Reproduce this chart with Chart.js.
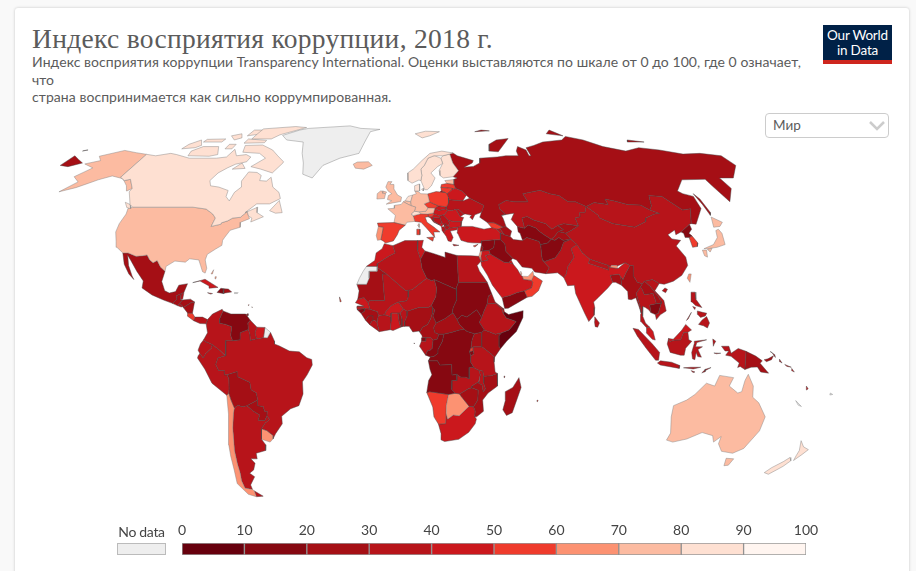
<!DOCTYPE html>
<html lang="ru">
<head>
<meta charset="UTF-8" />
<title>Индекс восприятия коррупции, 2018 г.</title>
<script src="https://cdn.jsdelivr.net/npm/chart.js@4"></script>
<style>
  html, body { margin: 0; height: 100%; overflow: hidden; background: #f9f9f9; }
  body { font-family: Lato, "Noto Sans", sans-serif; color: #5b5b5b; }
  #card { position: absolute; left: 15px; top: 8px; width: 894px; height: 580px; background: #fff; border-radius: 3px; box-shadow: 0 0 3px rgba(0,0,0,.22); }
  .line { position: absolute; white-space: nowrap; }
  #title { left: 32px; top: 22px; font: 27.5px/34px "Liberation Serif", serif; letter-spacing: .3px; }
  .sub { left: 32px; font-size: 14px; line-height: 18px; letter-spacing: .06px; }
  #logo { position: absolute; left: 823px; top: 25px; width: 69px; height: 39px; background: #002147; border-bottom: 0; color: #fff; text-align: center; font-size: 13.5px; line-height: 14.5px; }
  #logo div { padding-top: 3px; height: 31px; letter-spacing: -.2px; }
  #logo i { display: block; height: 4px; background: #ce261e; margin-top: 1px; }
  #region { position: absolute; left: 765px; top: 113px; width: 122px; height: 23px; border: 1px solid #ccc; border-radius: 4px; background: #fff; z-index: 2; font-size: 13.5px; line-height: 23px; text-indent: 7px; }
  #region svg { position: absolute; right: 3px; top: 7px; }
  #mapChart { position: absolute; left: 0; top: 100px; }
  #legendChart { position: absolute; left: 100px; top: 518px; }
  #noData { left: 118px; top: 523px; font-size: 14px; color: #444; width: 47px; text-align: center; letter-spacing: -.3px; }
  #noDataBox { position: absolute; left: 117px; top: 543px; width: 47px; height: 10px; background: #eee; border: 1px solid #bbb; }
</style>
</head>
<body>
<div id="card"></div>
<div id="title" class="line">Индекс восприятия коррупции, 2018 г.</div>
<div class="line sub" style="top:53px">Индекс восприятия коррупции Transparency International. Оценки выставляются по шкале от 0 до 100, где 0 означает,</div>
<div class="line sub" style="top:71px">что</div>
<div class="line sub" style="top:88px">страна воспринимается как сильно коррумпированная.</div>
<div id="logo"><div>Our World<br>in Data</div><i></i></div>
<div id="region">Мир<svg width="16" height="10" viewBox="0 0 16 10"><path d="M1 1l7 7 7-7" fill="none" stroke="#ccc" stroke-width="2.5"/></svg></div>
<canvas id="mapChart" width="916" height="420"></canvas>
<canvas id="legendChart" width="730" height="40"></canvas>
<div id="noData" class="line">No data</div>
<div id="noDataBox"></div>

<script>
// legend
const binEdges = [0, 10, 20, 30, 40, 50, 60, 70, 80, 90, 100];
const binColors = ['#67000d', '#860811', '#a50f15', '#b7141a', '#cb181d', '#ef3b2c', '#fc9272', '#fcbba1', '#fee0d2', '#fff5f0'];
const noDataColor = '#eeeeee';

// Robinson projection table, every 5 degrees of latitude
const robinsonX = [1, .9986, .9954, .99, .9822, .973, .96, .9427, .9216, .8962, .8679, .835, .7986, .7597, .7186, .6732, .6213, .5722, .5322];
const robinsonY = [0, .062, .124, .186, .248, .31, .372, .434, .4958, .5571, .6176, .6769, .7346, .7903, .8435, .8936, .9394, .9761, 1];

// country scores and outlines, outlines are lon,lat lists; null score = no data
const americasNames = ['Canada', 'United States', 'Greenland', 'Mexico', 'Guatemala', 'Belize', 'Honduras', 'El Salvador', 'Nicaragua', 'Costa Rica', 'Panama', 'Cuba', 'Jamaica', 'Haiti', 'Dominican Republic', 'Puerto Rico', 'Bahamas', 'Trinidad', 'Barbados', 'St Lucia', 'Colombia', 'Venezuela', 'Guyana', 'Suriname', 'French Guiana', 'Brazil', 'Ecuador', 'Peru', 'Bolivia', 'Paraguay', 'Chile', 'Argentina', 'Uruguay'];
const americasScores = [81, 71, null, 28, 27, 37, 29, 35, 25, 56, 37, 47, 44, 20, 30, null, 65, 41, 68, 55, 36, 18, 37, 41, null, 35, 34, 35, 29, 29, 67, 40, 70];
const americasShapes = [
  [[-141,69.6,-135,69,-128,70,-124,69.5,-115,68,-108,68,-100,68,-95,68.5,-94,71.8,-90,69,-85,69.5,-81.5,68.5,-82,66.5,-87,65.5,-90,64,-93,62,-94.5,59,-92.5,57,-88,56.5,-82.5,55.2,-82,52.9,-79.5,51.3,-79,54.5,-77,56.5,-78.5,58.8,-77.5,62.4,-73,62.2,-70,61,-69.5,59,-66,58.8,-64.5,60.3,-61.5,56.5,-57.5,54.5,-55.8,52.2,-60,50.2,-66,50.2,-70,47,-65,49,-64.5,47,-61,45.5,-66,43.6,-66,45,-67.8,45.7,-69.2,47.4,-71.3,45.3,-74.7,45,-76.5,44,-79,43.3,-79,42.8,-83,42,-82.5,45,-84.5,46.5,-88.5,48.3,-95,49,-123,49,-125,50,-130,54.7,-130,56,-135,59.5,-137.5,59,-141,60.3],
   [-59,47.7,-56,51.5,-53,47,-56,46.8],[-128,50.8,-125,50,-123.5,48.5,-125.5,48.8],[-62,66,-65,62,-72,63.5,-78,64.5,-73,68,-78,70,-88,70.5,-90,73.5,-80,73.7,-72,71.5,-67,69,-62,66.5],[-117,69,-105,68.8,-101,69.5,-105,73,-114,73,-118,71],[-125,72,-118,72.5,-116,73.5,-120,76,-124,74],[-90,76.5,-78,76.5,-75,78.5,-62,82.5,-70,83.1,-90,81.7,-90,79],[-92,74.5,-80,74.7,-80,75.8,-92,76.5],[-117,75,-106,75,-106,76.5,-117,76.3],[-95,78,-87,79,-88,81,-95,81],[-87,63.5,-80.5,63.8,-84,66],[-105,78,-100,76,-97,77,-100,79],[-100,72,-96,72,-96,74,-100,74]],
  [[-123,49,-95,49,-88.5,48.3,-84.5,46.5,-82.5,45,-83,42,-79,42.8,-79,43.3,-76.5,44,-74.7,45,-71.3,45.3,-69.2,47.4,-67.8,45.7,-67,44.8,-70.5,43.5,-70,41.7,-74,40.6,-75.5,38,-76,37,-75.7,35.2,-78,33.9,-81,32,-81.3,30,-80,27,-80.3,25.3,-81.5,25.8,-82.8,28,-84,30,-88,30.4,-89.5,29.2,-94,29.6,-97.2,27.7,-97.2,26,-99.5,27.5,-101.5,29.8,-103,29,-104.7,30,-106.5,31.8,-108.2,31.5,-111,31.3,-114.8,32.5,-117.1,32.5,-120.5,34.5,-122,36.7,-124,40,-124.5,43,-124,46.5,-124.7,48.4],
   [-141,69.6,-141,60.3,-137.5,59,-135,59.5,-130,56,-131.5,55,-134,57,-139,59.7,-146,60.8,-151,59.3,-154,58,-158,56.3,-164,54.7,-160,58.5,-165,60.5,-161,64,-168,65.6,-162,67,-166,68.8,-156.5,71.3,-148,70.3]],
  [[-73,78.2,-68,76,-57,75,-54,70,-51,66,-49,61.5,-43.5,60,-40,65,-32,68,-22,70,-20,75,-18,80,-12,81.4,-25,82,-33,83.5,-60,82,-65,81]],
  [[-117.1,32.5,-114.8,32.5,-111,31.3,-108.2,31.5,-106.5,31.8,-104.7,30,-103,29,-101.5,29.8,-99.5,27.5,-97.2,26,-97.8,22.3,-96,19,-94,18.2,-91.5,18.7,-90.5,21,-87,21.5,-88,18.5,-89.1,17.9,-91,17.2,-90.5,16,-92.2,14.5,-96,15.7,-101,17.5,-105.5,20,-105.5,22.5,-109,26,-112.8,30,-114.7,31.7,-113,28,-110.5,24.3,-109.5,23,-112,25,-115,28.5]],
  [[-92.2,14.5,-90.5,16,-91,17.2,-89.1,17.9,-89.2,15.9,-88.2,15.7,-89.3,14.5,-90.1,13.7]],
  [[-89.1,17.9,-88,18.5,-88.2,16,-89.2,15.9]],
  [[-89.3,14.5,-88.2,15.7,-85,16,-83.2,15,-84.7,14.7,-87.6,13,-87.8,13.4]],
  [[-90.1,13.7,-89.3,14.5,-87.8,13.4,-88.5,13.2]],
  [[-87.6,13,-84.7,14.7,-83.2,15,-83.7,11,-85.7,11.1]],
  [[-85.7,11.1,-83.7,11,-82.6,9.6,-83,8.3,-85.7,10]],
  [[-83,8.3,-82.6,9.6,-79.5,9.6,-77.4,8.7,-77.9,7.2,-80.4,7.3]],
  [[-84.9,21.9,-80,23.1,-74.2,20.2,-77.7,19.9,-78,20.7,-82,22.5]],
  [[-78.3,18.3,-76.2,18,-77,17.8]],
  [[-74.4,18.4,-73,19.9,-71.7,19.7,-71.8,18]],
  [[-71.7,19.7,-69.9,19.6,-68.4,18.6,-71,18.2,-71.8,18]],
  [[-67.2,18.4,-65.7,18.3,-66,18,-67.2,18]],
  [[-77.8,25,-77,26.5,-77.2,25],[-76,24,-75.4,24,-75.6,23.2]],
  [[-61.6,10.7,-61,10.8,-61,10.1,-61.9,10.1]],
  [[-59.7,13.3,-59.4,13.2,-59.5,13]],
  [[-61.1,14,-60.8,14,-61,13.7]],
  [[-77.4,8.7,-75.5,10.7,-71.7,12.4,-71.3,11.8,-72.5,9,-72.4,7.4,-70,7,-67.5,6.2,-67.8,3,-67,1.2,-69.8,1.2,-69.7,-1,-70,-4.2,-72,-2.4,-75.2,-.2,-77.8,.8,-78.8,1.4,-77.2,4,-77.9,7.2]],
  [[-71.3,11.8,-68,10.7,-62,10.7,-60,8.5,-61,7.5,-60.7,5.2,-64,4,-64,1.5,-67,1.2,-67.8,3,-67.5,6.2,-70,7,-72.4,7.4,-72.5,9]],
  [[-60,8.5,-57.2,6,-58,4,-57.3,1.9,-59.8,1.3,-60,3.5,-60.7,5.2,-61,7.5]],
  [[-57.2,6,-54,5.9,-54.5,2.3,-56,2,-57.3,1.9,-58,4]],
  [[-54,5.9,-51.7,4.2,-52.9,2.2,-54.5,2.3]],
  [[-51.7,4.2,-50,1,-50,0,-48,-.7,-44,-2.5,-40,-2.8,-37,-4.9,-35,-5.5,-34.8,-7.5,-37,-11,-39,-13.5,-39,-17.8,-41,-22,-44.5,-23.1,-48.5,-25.8,-48.6,-28.5,-52,-32,-53.4,-33.8,-53.1,-32.7,-55.5,-30.9,-57.6,-30.2,-55.7,-28.2,-53.7,-26.9,-54.6,-25.6,-54.3,-24,-55.4,-24,-55.8,-22.3,-58,-22,-57.9,-20,-58.1,-17.5,-60.2,-16.3,-60.5,-13.7,-65.3,-11.7,-65.4,-9.8,-69.6,-11,-70.6,-11,-70.6,-9.5,-73,-9.4,-74,-7.3,-73,-5,-70,-4.2,-69.7,-1,-69.8,1.2,-67,1.2,-64,1.5,-64,4,-60.7,5.2,-60,3.5,-59.8,1.3,-57.3,1.9,-56,2,-54.5,2.3,-52.9,2.2]],
  [[-78.8,1.4,-77.8,.8,-75.2,-.2,-75.6,-1.5,-78,-3.5,-79,-5,-80.3,-3.4,-81,-2.2,-80,0]],
  [[-75.2,-.2,-72,-2.4,-70,-4.2,-73,-5,-74,-7.3,-73,-9.4,-70.6,-9.5,-70.6,-11,-69.6,-11,-69,-12.5,-69.2,-16,-69.5,-17.5,-70.4,-18.3,-76,-14,-78.5,-9,-81.3,-5,-81,-4.2,-80.3,-3.4,-79,-5,-78,-3.5,-75.6,-1.5]],
  [[-69.6,-11,-65.4,-9.8,-65.3,-11.7,-60.5,-13.7,-60.2,-16.3,-58.1,-17.5,-57.9,-20,-62.5,-22,-64.5,-22.4,-66.2,-21.8,-67.8,-22.8,-68.8,-20,-69.5,-17.5,-69.2,-16,-69,-12.5]],
  [[-62.5,-22,-57.9,-20,-58,-22,-55.8,-22.3,-55.4,-24,-54.3,-24,-54.6,-25.6,-55.8,-27.3,-58.5,-27.2,-57.6,-25.3,-60,-24]],
  [[-70.4,-18.3,-69.5,-17.5,-68.8,-20,-67.8,-22.8,-68.4,-24.5,-69.7,-30,-70.5,-35,-71.2,-38,-71.7,-43,-71.8,-46,-72.5,-49,-72.3,-51.7,-69,-52.2,-68.5,-52.7,-68.6,-54.9,-72,-54,-75,-50,-74,-45,-73.5,-40,-73,-36,-71.5,-30,-70.5,-25]],
  [[-67.8,-22.8,-66.2,-21.8,-64.5,-22.4,-62.5,-22,-60,-24,-57.6,-25.3,-58.5,-27.2,-55.8,-27.3,-54.6,-25.6,-53.7,-26.9,-55.7,-28.2,-57.6,-30.2,-58.2,-33,-58.4,-34,-57,-36,-57.6,-38,-62,-39,-62.2,-41,-65,-41,-63.7,-42.6,-65.2,-45,-67.5,-46.2,-65.8,-47.5,-69,-50.5,-69,-52.2,-72.3,-51.7,-72.5,-49,-71.8,-46,-71.7,-43,-71.2,-38,-70.5,-35,-69.7,-30,-68.4,-24.5],[-68.5,-52.7,-65.2,-54.7,-68.6,-54.9]],
  [[-57.6,-30.2,-55.5,-30.9,-53.1,-32.7,-53.4,-33.8,-54.9,-35,-58.4,-34,-58.2,-33]]
];

const africaNames = ['Morocco', 'Western Sahara', 'Algeria', 'Tunisia', 'Libya', 'Egypt', 'Mauritania', 'Mali', 'Niger', 'Chad', 'Sudan', 'South Sudan', 'Eritrea', 'Ethiopia', 'Djibouti', 'Somalia', 'Kenya', 'Uganda', 'Tanzania', 'Rwanda', 'Burundi', 'DR Congo', 'Congo', 'Gabon', 'Equatorial Guinea', 'Cameroon', 'Central African Republic', 'Nigeria', 'Benin', 'Togo', 'Ghana', 'Burkina Faso', "Cote d'Ivoire", 'Liberia', 'Sierra Leone', 'Guinea', 'Guinea-Bissau', 'Senegal', 'Gambia', 'Angola', 'Zambia', 'Malawi', 'Mozambique', 'Zimbabwe', 'Botswana', 'Namibia', 'South Africa', 'Lesotho', 'Eswatini', 'Madagascar', 'Mauritius', 'Comoros', 'Sao Tome', 'Cape Verde'];
const africaScores = [43, null, 35, 43, 17, 35, 27, 32, 34, 19, 16, 13, 24, 34, 31, 10, 27, 26, 36, 56, 17, 20, 19, 31, 16, 25, 26, 27, 40, 30, 41, 41, 35, 32, 30, 28, 16, 45, 37, 19, 35, 32, 23, 22, 61, 53, 43, 41, 38, 25, 51, 27, 46, 57];
const africaShapes = [
  [[-5.9,35.8,-2.2,35.1,-1.2,32.5,-3.6,31.5,-8.7,28.7,-8.7,27.7,-13.2,27.7,-9.8,29.8,-9.3,32.5,-6.8,34]],
  [[-13.2,27.7,-8.7,27.7,-8.7,26,-12,26,-12,23.5,-13,21.3,-17,21.3,-16,23.5,-14.5,26]],
  [[-2.2,35.1,3,36.9,8.6,36.9,8.3,33.5,9.5,30.2,10,27,11.9,23.5,5.8,19.4,4.2,19.2,3.2,19,-4.8,25,-8.7,27.3,-8.7,28.7,-3.6,31.5,-1.2,32.5]],
  [[8.6,36.9,11,37,10.2,34.5,11.5,33.2,9.5,30.2,8.3,33.5]],
  [[11.5,33.2,15,32.3,20,30.9,20,32.8,25,31.6,25,22,24,20,24,19.5,15,23,14,22.6,11.9,23.5,10,27,9.5,30.2]],
  [[25,31.6,31,31.5,34.2,31.3,34.9,29.5,33.2,28,34,26,35.5,24,36.9,22,25,22]],
  [[-17,21.3,-13,21.3,-12,23.5,-12,26,-8.7,26,-8.7,27.3,-4.8,25,-6.5,25,-5.5,15.5,-9.5,15.5,-11.5,15.5,-12.2,14.8,-14,16.6,-16.5,16,-16,19]],
  [[-4.8,25,3.2,19,4.2,19.2,4.2,16.8,3.5,15.4,.2,15,-1,14.5,-3,13.6,-5,11.5,-5.5,10.4,-8,10.2,-8.3,11.5,-11.4,12.4,-12.2,14.8,-11.5,15.5,-9.5,15.5,-5.5,15.5,-6.5,25]],
  [[4.2,19.2,5.8,19.4,11.9,23.5,14,22.6,15,23,15.9,20,15.5,16.9,13.6,13.7,12.5,13.1,8.5,13,3.7,11.7,2.2,12.5,.2,15,3.5,15.4,4.2,16.8]],
  [[15,23,24,19.5,24,15.7,22.5,13,22,10.9,19,9,15.5,7.5,14.2,10,15,12,13.6,13.7,15.5,16.9,15.9,20]],
  [[24,20,25,22,36.9,22,38.5,18,37,17,36.4,14.3,35,11.7,34,9.5,32.5,11.7,32,12.2,28,9.6,26,10.3,24,8.7,22.5,11,22,10.9,22.5,13,24,15.7,24,19.5]],
  [[24,8.7,26,10.3,28,9.6,32,12.2,32.5,11.7,34,9.5,33,7.8,35,5,34,4.2,31,3.7,28,4.5,27,5.2,25,7]],
  [[36.4,14.3,37,17,38.5,18,39.7,15,43.2,12.5,42.4,12.5,40,14.5,37,14.4]],
  [[36.4,14.3,37,14.4,40,14.5,42.4,12.5,42.8,11,44,9.3,48,8,45,5,42,4,39.5,3.5,35,5,33,7.8,34,9.5,35,11.7]],
  [[42.4,12.5,43.2,12.5,43.3,11.5,42.8,11]],
  [[42.8,11,43.3,11.5,45,10.5,51,11.9,50.8,9.5,48,4.5,44,1,41.5,-1.7,41,-.9,41,3,42,4,45,5,48,8,44,9.3]],
  [[35,5,39.5,3.5,42,4,41,3,41,-.9,41.5,-1.7,39.2,-4.7,37.7,-3.5,34,-1,34,4.2]],
  [[31,3.7,34,4.2,34,-1,30.5,-1,29.6,-1.4,30,1.5]],
  [[30.5,-1,34,-1,37.7,-3.5,39.2,-4.7,39,-6.5,39.5,-10,40.4,-10.5,38,-11.3,34.9,-11.5,34.5,-9.6,32.9,-9.4,31,-8.6,29.5,-6.5,29.5,-4.4,30.8,-3.5,30.5,-2.4]],
  [[29.6,-1.4,30.5,-1,30.5,-2.4,29,-2.7]],
  [[29,-2.7,30.5,-2.4,30.8,-3.5,29.5,-4.4]],
  [[12.3,-6,13.1,-4.6,14.5,-4.5,16,-3.5,16.2,-2,18,1,18.6,3.5,22,4.2,25,5,27,5.2,28,4.5,31,3.7,30,1.5,29.6,-1.4,29,-2.7,29.5,-4.4,29.5,-6.5,31,-8.6,30.7,-8.2,28.9,-8.4,29,-12.4,27.5,-11.8,25.5,-11.8,23.9,-10.8,22,-11.1,21.8,-7.3,17,-7.5,16,-6]],
  [[11.2,-4,13.1,-4.6,14.5,-4.5,16,-3.5,16.2,-2,18,1,18.6,3.5,16.5,3.5,16,1.8,14.2,1.3,13.9,-1.5,13,-2.2,12,-2.4]],
  [[9.5,1,11.3,1,11.3,2.2,13.3,2.2,14.2,1.3,13.9,-1.5,13,-2.2,12,-2.4,11.2,-4,8.7,-.8]],
  [[9.5,2.2,11.3,2.2,11.3,1,9.5,1]],
  [[8.5,4.6,9.7,3,9.9,2.2,11.3,2.2,13.3,2.2,14.2,1.3,16,1.8,16.5,3.5,15,4,14.6,5,14.5,6,15.5,7.5,14.2,10,15,12,14.2,13,14,11,13.3,9,12,7,10,6,8.9,4.5]],
  [[14.6,5,15,4,16.5,3.5,18.6,3.5,22,4.2,25,5,27,5.2,25,7,24,8.7,22.5,11,22,10.9,19,9,15.5,7.5,14.5,6]],
  [[2.7,6.3,4.5,6.3,6,4.3,8.5,4.6,8.9,4.5,10,6,12,7,13.3,9,14,11,14.2,13,13.6,13.7,12.5,13.1,8.5,13,3.7,11.7,3.7,10,2.7,8]],
  [[1.6,6.2,2.7,6.3,2.7,8,3.7,10,3.7,11.7,2.2,12.5,.9,11,1.6,9]],
  [[1.1,6,1.6,6.2,1.6,9,.9,11,0,11,.5,8]],
  [[-3.1,5.1,-2,4.8,1.1,6,.5,8,0,11,-2.8,11,-2.8,8]],
  [[-5.5,10.4,-2.8,9.7,-2.8,11,0,11,.9,11,2.2,12.5,.2,15,-1,14.5,-3,13.6,-5,11.5]],
  [[-7.6,4.4,-3.1,5.1,-2.8,8,-2.8,9.7,-5.5,10.4,-8,10.2,-8.5,7.7]],
  [[-11.5,6.9,-7.6,4.4,-8.5,7.7,-9.5,8.5,-10.5,8.3]],
  [[-13.2,8.5,-11.5,6.9,-10.5,8.3,-10.2,10,-12,10]],
  [[-15,10.9,-13.2,8.5,-12,10,-10.2,10,-10.5,8.3,-9.5,8.5,-8.5,7.7,-8,10.2,-8.3,11.5,-11.4,12.4,-13.7,12.6,-13.7,11.7]],
  [[-16.7,12.3,-13.7,12.6,-13.7,11.7,-15,10.9]],
  [[-16.5,16,-14,16.6,-12.2,14.8,-11.4,12.4,-13.7,12.6,-16.7,12.3,-16.8,13.2,-14,13.3,-14,13.6,-17.4,14.7]],
  [[-16.8,13.2,-14,13.3,-14,13.6,-16.6,13.6]],
  [[12.3,-6,16,-6,17,-7.5,21.8,-7.3,22,-11.1,23.9,-10.8,24,-13,22,-13,22,-16.2,23.4,-17.6,20.8,-18,13,-17,11.8,-17.3,12.5,-13,13.8,-11,13,-9]],
  [[30.7,-8.2,31,-8.6,32.9,-9.4,33.5,-11,32.9,-13.5,30.2,-15,30.2,-15.6,28.8,-16,25.3,-17.8,23.4,-17.6,22,-16.2,22,-13,24,-13,23.9,-10.8,25.5,-11.8,27.5,-11.8,29,-12.4,28.9,-8.4]],
  [[32.9,-9.4,34.5,-9.6,34.9,-11.5,35,-14,35.8,-16,35,-17,34.3,-14.5,33,-14,33.5,-11]],
  [[34.9,-11.5,38,-11.3,40.4,-10.5,40.7,-15,37,-17.5,34.9,-20,35.5,-24,32.8,-26,32,-26,32.1,-24,31.3,-22.4,32.9,-20,32.9,-16.5,30.2,-15.6,30.2,-15,32.9,-13.5,33,-14,34.3,-14.5,35,-17,35.8,-16,35,-14]],
  [[25.3,-17.8,28.8,-16,30.2,-15.6,32.9,-16.5,32.9,-20,31.3,-22.4,29.4,-22.2,26,-18.7]],
  [[20,-22,20.8,-18,23.4,-17.6,25.3,-17.8,26,-18.7,29.4,-22.2,25.5,-25.6,23,-25.3,20.8,-26.8,20,-24.8]],
  [[11.8,-17.3,13,-17,20.8,-18,20,-22,20,-28.4,17,-28.6,15,-26,14.4,-22.5]],
  [[17,-28.6,20,-28.4,20,-24.8,20.8,-26.8,23,-25.3,25.5,-25.6,29.4,-22.2,31.3,-22.4,32.1,-24,32,-26,32.8,-26.8,32.4,-28.5,30,-31.5,26,-34,20,-34.8,18.4,-34.2,18.3,-32]],
  [[28,-28.7,29.3,-29.7,28.2,-30.6,27,-29.6]],
  [[31,-25.8,32,-26,32,-27.2,31,-27]],
  [[49.3,-12,50.4,-15.5,47.5,-24.5,45.2,-25.5,43.5,-23.5,44.3,-20,44,-17,47,-15.5]],
  [[57.3,-20,57.8,-20.2,57.5,-20.6]],
  [[43.2,-11.4,43.6,-11.6,43.4,-12]],
  [[6.5,.4,6.8,.3,6.6,0]],
  [[-24,16.8,-23.2,15.2,-23.7,15]]
];

const europeNames = ['Spain', 'Portugal', 'France', 'United Kingdom', 'Ireland', 'Iceland', 'Norway', 'Sweden', 'Finland', 'Denmark', 'Germany', 'Netherlands', 'Belgium', 'Switzerland', 'Austria', 'Italy', 'Poland', 'Czechia', 'Slovakia', 'Hungary', 'Slovenia', 'Croatia', 'Bosnia', 'Serbia', 'Montenegro', 'Kosovo', 'Albania', 'North Macedonia', 'Greece', 'Bulgaria', 'Romania', 'Moldova', 'Ukraine', 'Belarus', 'Lithuania', 'Latvia', 'Estonia', 'Russia', 'Cyprus'];
const europeScores = [58, 64, 72, 80, 73, 76, 84, 85, 85, 88, 80, 82, 75, 85, 76, 52, 60, 59, 50, 46, 60, 48, 38, 39, 45, 37, 36, 37, 45, 42, 47, 33, 32, 44, 59, 58, 73, 28, 59];
const europeShapes = [
  [[-9.2,43.2,-1.8,43.4,3.2,42.4,.5,40.6,-.3,39,-2,36.8,-5.4,36,-6.3,36.7,-7.4,37.2,-7,39,-6.5,41.7,-8.7,42]],
  [[-8.7,42,-6.5,41.7,-7,39,-7.4,37.2,-8.9,37,-9.5,38.7]],
  [[-1.8,43.4,3.2,42.4,4,43.5,7.5,43.8,7,45.5,6,46.5,7.5,47.5,8.2,49,6.2,49.5,4.8,50,2.5,51,1.5,50,-1.5,49.7,-1.7,48.6,-4.7,48.4,-1.2,46],[8.7,42.5,9.4,43,9.4,41.6]],
  [[-5.5,50.1,1.3,51.1,1.7,52.7,-.2,53.5,-2,55.8,-2,57.5,-4,57.6,-3,58.6,-5,58.6,-6,56.5,-4.8,55,-3,54,-4.6,53.3,-5,51.8,-3,51.4],[-7.3,55,-5.5,54.6,-6,54,-7.5,54.3]],
  [[-10,52,-6.4,52.2,-6,54,-7.5,54.3,-7.3,55,-8.5,55,-10,54]],
  [[-24,65.5,-22,66.4,-16,66.5,-13.7,65,-18,63.5,-22.5,63.9]],
  [[5,59,7,58,10.5,59.2,11.5,59,12.2,61,12,63.5,14,65,16.5,68,20,69,25,69,29,69.7,31,70.2,25,71,18,70,13,67,8,63.5,5,62],[11,79,15,77,20,78,27,80,18,80.3]],
  [[11.5,59,13,55.5,14.3,55.5,16.5,57,18.8,60,17,62,21,64.5,24,65.8,23.6,68,20.5,69,20,69,16.5,68,14,65,12,63.5,12.2,61]],
  [[24,65.8,21.5,63,21.5,61,23,60,28,60.5,31.5,62.9,29.5,66,29,69.7,25,69,23.6,68]],
  [[8.2,55,8.2,57,10.6,57.7,10.5,55],[11.5,55.7,12.5,56,12.3,55]],
  [[6,51,7,53.5,8.8,54,8.2,55,9.8,54.8,11,54,14.2,53.9,14.8,51,12.2,50.2,13.8,48.7,12.8,47.5,9.6,47.3,7.5,47.5,8.2,49,6.2,49.5]],
  [[3.4,51.4,6,51,7,53.5,4.8,53]],
  [[2.5,51,3.4,51.4,6,51,6.2,49.5,4.8,50]],
  [[7,45.9,10.4,46.6,9.6,47.3,7.5,47.5,6,46.5]],
  [[9.6,47.3,12.8,47.5,13.8,48.7,17,48.6,16.2,46.9,13.5,46.5,10.4,46.6]],
  [[7,45.5,7.5,43.8,10.3,43.5,12.5,41.5,16,38,15.7,40,18.4,40,16,41.7,13,43.5,12.3,45.3,13.7,45.5,13.5,46.5,10.4,46.6,7,45.9],[12.5,38,15.6,38.2,15.1,36.7],[8.3,39,8.3,41,9.7,41,9.6,39]],
  [[14.2,53.9,18.5,54.8,23,54.4,23.5,53.9,24,52.5,24,51.7,23.5,50.5,22.5,49.1,18.8,49.5,16.5,50.3,14.8,51]],
  [[12.2,50.2,14.8,51,16.5,50.3,18.8,49.5,17,48.6,13.8,48.7]],
  [[17,48.6,18.8,49.5,22.5,49.1,22.2,48.4,18.8,47.8]],
  [[16.2,46.9,17,48.6,18.8,47.8,22.2,48.4,22.9,47.9,21,46.2,20.5,46.2,18.9,45.9,16.5,46.5]],
  [[13.5,46.5,16.2,46.9,16.5,46.5,15.3,45.5,13.7,45.5]],
  [[13.7,45.5,15.3,45.5,16.5,46.5,18.9,45.9,19,45,16,45.2,15.8,44,18.5,42.5,16,43.5,14.5,45.2]],
  [[16,45.2,19,45,19.5,43.5,18.5,42.5,15.8,44]],
  [[19,45,18.9,45.9,20.5,46.2,22.5,44.2,23,43.2,22.4,42.3,21.5,42.3,21.5,43,20.3,42.8,19.5,43.5]],
  [[18.5,42.5,19.5,43.5,20.3,42.8,19.3,41.9]],
  [[20.3,42.8,21.5,43,21.5,42.3,20.6,41.9]],
  [[19.3,41.9,20.6,41.9,21,40.8,20,39.7,19.4,40.5]],
  [[20.6,41.9,21.5,42.3,22.4,42.3,23,41.3,21,40.8]],
  [[21,40.8,23,41.3,26.3,41.7,26,40.8,23,40.3,24,38,23,36.5,21.7,36.8,21,38.5,20,39.7],[23.6,35.6,26.2,35.2,24,35]],
  [[22.5,44.2,25,43.7,28.6,43.7,28,42,26.3,41.7,23,41.3,22.4,42.3,23,43.2]],
  [[20.5,46.2,21,46.2,22.9,47.9,24.9,47.8,26.6,48.2,28.2,45.5,29.7,45.2,28.6,43.7,25,43.7,22.5,44.2]],
  [[26.6,48.2,28,48.1,30,46.4,28.2,45.5]],
  [[22.5,49.1,23.5,50.5,24,51.7,30.5,51.3,34,52.3,40,49.6,38.2,47.1,35,46.2,33.5,44.4,32.5,45.4,33.5,46,30.7,46.5,30,46.4,28,48.1,26.6,48.2,24.9,47.8,22.9,47.9,22.2,48.4]],
  [[24,52.5,23.5,53.9,26.5,55.6,28.2,56,31,55,32.7,53.4,30.5,51.3,24,51.7]],
  [[21,55.3,21,56.4,26.5,56,26.5,55.6,23.5,53.9,23,54.4]],
  [[21,56.4,21.5,57.5,24.3,57.9,27.6,57.5,28.2,56,26.5,55.6,26.5,56]],
  [[23.5,59,28,59.4,27.6,57.5,24.3,57.9]],
  [[28,60.5,30,60,28,59.4,27.6,57.5,28.2,56,31,55,32.7,53.4,34,52.3,40,49.6,38.2,47.1,37,45.3,40,43.4,43,43.3,46.5,41.8,48,41.9,47.5,44.8,47,46,49,46.4,46.8,48.4,47,50,51,51.5,55,51,61,51,60,54,69,55.3,73,54,77,53.3,80,51,83.5,51,87.3,49.2,92,50.7,98,50,98,52,102,51.3,107,50,113,49.8,116,48,117.8,49.5,120,53.3,126,53,131,48,135,48.4,131,43,133,42.8,140,48.5,141,53,137,54,135.5,55,143,59.3,155,59.5,155,57,156,51,163,56,163,60,170,60,180,65,180,69,170,70,160,69.7,150,71.5,140,72.5,130,71,120,73,113,76,105,77.7,100,76,87,75,80,73.5,74.5,72.5,74,69,73,69,73.5,71.5,70,73,67.5,71,67,69,60,69,55,68.5,45,68,44,66,40,64.6,35,64.3,40,66,41,67,33,69,31,70.2,29,69.7,29.5,66,31.5,62.9],
   [20,54.4,22.8,54.4,21,55.2],[-180,65,-175,64.5,-170,66,-175,67.5,-180,69],[142,54,143,52,143,47,142,46,142,50],[52,71,57,70.7,68,76.7,60,76,54,74],[95,79,104,78,100,81],[138,75,148,75,140,76],[50,80,60,80.5,55,81],[-180,71,-178,71.5,-180,71.2]],
  [[32.3,35,34.5,35.6,33,34.6]]
];

const asiaNames = ['Turkey', 'Georgia', 'Armenia', 'Azerbaijan', 'Syria', 'Lebanon', 'Israel', 'Jordan', 'Iraq', 'Iran', 'Saudi Arabia', 'Kuwait', 'Qatar', 'UAE', 'Oman', 'Yemen', 'Kazakhstan', 'Uzbekistan', 'Turkmenistan', 'Kyrgyzstan', 'Tajikistan', 'Afghanistan', 'Pakistan', 'India', 'Nepal', 'Bhutan', 'Bangladesh', 'Sri Lanka', 'China', 'Mongolia', 'Taiwan', 'North Korea', 'South Korea', 'Japan', 'Myanmar', 'Thailand', 'Laos', 'Vietnam', 'Cambodia', 'Malaysia', 'Indonesia', 'Timor-Leste', 'Philippines'];
const asiaScores = [41, 58, 35, 25, 13, 28, 61, 49, 18, 28, 49, 41, 62, 70, 52, 14, 31, 23, 20, 29, 25, 16, 33, 41, 31, 68, 26, 38, 39, 37, 63, 14, 57, 73, 29, 36, 29, 33, 20, 47, 38, 35, 36];
const asiaShapes = [
  [[26,40,26.3,41,26.3,41.7,28,42,33,42,38,41,41.5,41.5,43.5,41,44.8,39.7,44.5,37.2,42,37.2,36,36.8,36,36,32,36.1,30,36.3,27.3,37,26.2,39.5]],
  [[40,43.4,43,43.3,46.5,41.8,45,41.2,43.5,41,41.5,41.5]],
  [[43.5,41,45,41.2,46.5,39,44.8,39.7]],
  [[45,41.2,46.5,41.8,48,41.9,50,40.3,48.9,38.4,46.5,39]],
  [[36,36,36,36.8,42,37.2,41,34.4,38.8,33.4,36,33.2,36.5,34.5,35.7,35]],
  [[35.7,35,36.5,34.5,36,33.2,35.1,33.1]],
  [[35.1,33.1,35.7,33,35,31,34.9,29.5,34.2,31.3]],
  [[35.7,33,36,33.2,38.8,33.4,39.2,32.1,37,31.5,38,30,35,29.4,35,31]],
  [[42,37.2,44.5,37.2,46,35.7,46,33,48.5,30.5,47.7,30,46.5,29.1,44.7,29.2,39.2,32.1,38.8,33.4,41,34.4]],
  [[44.8,39.7,46.5,39,48.9,38.4,50,37.3,54,36.9,56,38,61,36.6,61.3,35.5,61.3,35,60.9,31.5,60.9,29.8,63.3,27.2,61.5,25.1,57,25.7,56,27,52,27.5,50,30,48.5,30.5,46,33,46,35.7,44.5,37.2]],
  [[34.9,29.5,35,29.4,38,30,37,31.5,39.2,32.1,44.7,29.2,46.5,29.1,48.4,28.5,50,26.5,51,24.6,51.6,24.2,52,23,55.2,22.7,55.7,22,55,20,52,19,48.8,18.3,46,17.3,43.2,16.7,42.7,16.4,39,21,37.2,24.5,35,28]],
  [[46.5,29.1,47.7,30,48.4,28.5]],
  [[51,24.6,51.2,26,51.6,24.9]],
  [[51.6,24.2,54,24.1,56.3,26,56.4,24.5,55.2,22.7,52,23]],
  [[56.4,24.5,59.8,22.5,57.8,19,55,17,53,16.7,52,19,55,20,55.7,22,55.2,22.7]],
  [[43.2,16.7,46,17.3,48.8,18.3,52,19,53,16.7,45,12.8,43.5,12.7,42.7,16.4]],
  [[47,46,49,46.4,46.8,48.4,47,50,51,51.5,55,51,61,51,60,54,69,55.3,73,54,77,53.3,80,51,83.5,51,87.3,49.2,85.5,47,83,47,82.5,45.5,80,45,80.2,42.2,74,43,71,42.3,68,41,66,43,61,44.3,58.5,45.6,56,45,56,41.3,53,42,51,44.5,53,46.8]],
  [[56,45,58.5,45.6,61,44.3,66,43,68,41,71,42.3,73,40.8,70.5,40.2,68,38.2,66.5,37.4,64,38.9,62,40.3,61,41.4,58,42.5,56,41.3]],
  [[53,42,56,41.3,58,42.5,61,41.4,62,40.3,64,38.9,66.5,37.4,64.5,36,61.3,35.5,61,36.6,56,38,54,36.9,53.5,39.5,52.8,40]],
  [[71,42.3,74,43,80.2,42.2,76,40.4,73.5,39.5,70.5,40.2,73,40.8]],
  [[68,38.2,70.5,40.2,73.5,39.5,75,37.4,71.5,37,70,38,68,37,66.5,37.4]],
  [[61.3,35,61.3,35.5,64.5,36,66.5,37.4,68,37,70,38,71.5,37,75,37.4,71.5,36.3,69.5,33.5,66.5,30.8,62,29.5,60.9,29.8,60.9,31.5]],
  [[61.5,25.1,63.3,27.2,60.9,29.8,62,29.5,66.5,30.8,69.5,33.5,71.5,36.3,75,37.4,77,35.5,74,34,74.5,31,71,27.5,70,25,68.8,23.7,66.5,25.4]],
  [[74,34,77,35.5,78.5,32.5,81,30.2,80,28.8,88,26.4,88.2,28,88.9,27.3,92,26.9,95.5,29,97.3,28,94.6,25,93.3,23,92.5,24,92,24.9,88.2,24.5,88.8,22,86.5,20,82,16.5,80,15,80.3,13,79.8,10.3,77.5,8,76,11,73,18,72.8,21,70,20.8,68.8,23.7,70,25,71,27.5,74.5,31]],
  [[80,28.8,81,30.2,88.2,28,88,26.4]],
  [[88.9,27.3,92,26.9,92,27.8,91.5,28,89.5,28]],
  [[88.2,24.5,92,24.9,92.5,24,92.3,21,90,22,88.8,22]],
  [[80,9.7,81.8,7.5,81,6,80,6.2,79.8,8]],
  [[73.5,39.5,76,40.4,80.2,42.2,80,45,82.5,45.5,83,47,85.5,47,87.3,49.2,91,46,91,45,96,43,105,41.7,111,43.7,112,45,117,46.5,119.5,46.7,116,48,117.8,49.5,120,53.3,126,53,131,48,135,48.4,131,43,130,42.8,128,41.8,124.3,40,121.5,39,122,40.7,118,39,119,37.5,122.5,37,119.5,35,121.8,31,121.5,28,118,24.5,114,22.4,110,21.3,108,21.6,105.5,23,102,22.4,101,21.5,99,22,98,24,98.7,28,97.3,28,95.5,29,92,27.8,91.5,28,89.5,28,88.9,27.3,88.2,28,81,30.2,78.5,32.5,77,35.5,75,37.4],[108.7,19,110,20,111,19.5,110,18.3]],
  [[87.3,49.2,92,50.7,98,50,98,52,102,51.3,107,50,113,49.8,116,48,119.5,46.7,117,46.5,112,45,111,43.7,105,41.7,96,43,91,45,91,46]],
  [[121,25,122,25,120.8,22,120,23.5]],
  [[124.3,40,128,41.8,130,42.8,129.7,41,127.5,39.5,128.3,38.6,126.7,38,125,38,125.2,39.5]],
  [[126.7,38,128.3,38.6,129.4,36,128.5,34.8,126.3,34.5,126.6,37]],
  [[130.9,34,135.8,35.5,139,38,140,40.5,141.5,41,142,39.5,140.8,35.5,136.8,34.5,132.5,34],[140,41.7,141.8,45.4,145.3,43.5,143,42],[130,33.5,131.8,33.5,131,31,130,31.5],[132.3,33.8,134.5,34.2,133,32.8]],
  [[92.3,21,92.5,24,93.3,23,94.6,25,97.3,28,98.7,28,98,24,99,22,101,21.5,100,20.3,97.8,18,98.7,14,99,11,98.5,13,97.5,16.5,95.5,15.8,94.3,16,94.5,18.7]],
  [[97.8,18,100,20.3,100.5,19.6,101.2,17.6,104.8,18,105.5,15,105.5,14.4,102.8,13.9,103,11.2,102.2,12.2,101,13,100,13.4,99.5,10,100.5,7.5,102,6.1,100.8,5.8,98.7,8,98.7,10.5,99,11,98.7,14]],
  [[101,21.5,102,22.4,104,20.6,106.7,17,107.6,15.2,107.6,14.5,105.5,14.4,105.5,15,104.8,18,101.2,17.6,100.5,19.6,100,20.3]],
  [[102,22.4,105.5,23,108,21.6,105.7,19,108.8,15.5,109.3,11.8,106.7,10.4,105,8.7,104.7,10.5,106,11,107.6,14.5,107.6,15.2,106.7,17,104,20.6]],
  [[103,11.2,102.8,13.9,105.5,14.4,107.6,14.5,106,11,104.7,10.5]],
  [[100.8,5.8,102,6.1,103.4,4.5,104.2,1.4,103,1.7,100.6,4],[109.6,2,110,.9,112,1.4,114.5,1.5,115.8,4.2,117.5,4.2,119,5,116.8,7,115,4.9,111.5,1.7]],
  [[95.3,5.6,97.5,5.2,103,0,106,-3,105.7,-5.8,104.5,-5.8,100.5,-1.5,97,2.8],[105.3,-6.8,106.5,-6,111,-6.5,114.5,-7.7,114.3,-8.7,106.5,-7.5],[109.6,2,110,.9,112,1.4,114.5,1.5,115.8,4.2,117.5,4.2,117.8,1.5,119,1,116.5,-1.5,116,-4,114.5,-4,110.3,-3,109,0],[120,1,125,1.5,121,.5,120.5,-1,123.3,-1,121.5,-2,123,-4.7,121.5,-4.5,120.8,-3,120.4,-5.6,119.4,-5.3,119,-3,119.9,0],[131,-.8,134,-.8,135,-3.3,137.8,-1.6,141,-2.6,141,-9.1,139,-8,138,-8.4,138.5,-6.8,135,-4.4,132.8,-4,134,-2.5,132.5,-2.5],[127.5,1.8,128.7,1,128,0,127.7,-.8],[128,-3.2,130.8,-3.3,129,-3.5],[123.6,-10.3,125,-9,124.9,-9.9],[116,-8.5,119,-8.3,123,-8.3,120,-8.9],[119.2,-9.5,120.8,-10,120,-10.2]],
  [[125,-9,127.2,-8.4,125,-9.5]],
  [[120.5,18.5,122.2,18.5,122,16,124,13,121.5,13.7,120.2,15],[122,7,123.5,8.5,125.5,9.8,126.5,7.5,125.5,5.7,124,6.5],[122,11.8,124,11.3,125.7,11,125,10,123,9.5,122,10.5],[117.2,8.4,119.5,11.3,118,9],[120.3,13.4,121.4,13,121,12.3]]
];

const oceaniaNames = ['Australia', 'New Zealand', 'Papua New Guinea', 'Solomon Islands', 'Vanuatu', 'New Caledonia', 'Fiji'];
const oceaniaScores = [77, 87, 28, 44, 46, null, null];
const oceaniaShapes = [
  [[114,-22,114,-26,115.7,-31.8,115,-34.3,118,-35,123.5,-33.9,129,-31.6,134,-32.7,135.5,-35,137.8,-33,138,-35.6,141,-38.3,146.3,-39,150,-37.3,153,-31,153.2,-26,149,-21,146,-19,145.3,-15,142.6,-10.8,141.6,-13,141,-17,139.5,-17.5,135.5,-15,136.8,-12,131,-11.2,129.5,-15,126,-14,122,-18,119,-20],[144.8,-40.8,148.3,-41,147.8,-43.3,146,-43.5]],
  [[172.8,-34.5,175.5,-36.7,178.4,-37.7,177,-39.5,175.3,-41.6,174.8,-39.8,174.7,-38],[172.7,-40.5,174.2,-41.7,172.7,-43.7,171,-45,169,-46.6,166.5,-46,168,-44.2,171.2,-42]],
  [[141,-2.6,145,-4.3,147.8,-6,147,-6.9,150.8,-10.4,147.5,-10,146,-8.2,143.5,-8.3,141,-9.1],[148.5,-5.6,150,-5.3,152.2,-4.2,151.5,-5.6,149.5,-6.3],[150.8,-2.7,152.7,-3.8,153,-4.8,151.5,-3],[154.7,-5.4,155.9,-6.8,155,-6.3]],
  [[157,-7.3,159.8,-8.3,158,-8],[160,-8.7,161.2,-10,160,-9.5]],
  [[167,-15,168,-16,167.5,-16.4]],
  [[164,-20.2,167,-22.3,165.5,-21.8]],
  [[177.5,-17.5,178.6,-18,177.5,-18.2]]
];

const names = [...americasNames, ...africaNames, ...europeNames, ...asiaNames, ...oceaniaNames];
const scores = [...americasScores, ...africaScores, ...europeScores, ...asiaScores, ...oceaniaScores];
const shapes = [...americasShapes, ...africaShapes, ...europeShapes, ...asiaShapes, ...oceaniaShapes];

function lookup(table, lat) {
  const t = Math.min(Math.abs(lat), 89.99) / 5, i = Math.floor(t);
  return table[i] + (table[i + 1] - table[i]) * (t - i);
}

function fillColor(score) {
  if (score === null) return noDataColor;
  return binColors[Math.max(Math.ceil(score / 10) - 1, 0)];
}

// one dataset per landmass, closed back to its first vertex
const mapDatasets = [];
shapes.forEach((parts, i) => {
  parts.forEach(part => {
    const points = [];
    for (let k = 0; k < part.length; k += 2) {
      points.push({ x: part[k] * lookup(robinsonX, part[k + 1]), y: Math.sign(part[k + 1]) * lookup(robinsonY, part[k + 1]) });
    }
    points.push(points[0]);
    const dark = scores[i] !== null && scores[i] <= 60;
    mapDatasets.push({
      label: names[i],
      data: points,
      showLine: true,
      fill: 'shape',
      backgroundColor: fillColor(scores[i]),
      borderColor: dark ? 'rgba(70,70,70,.75)' : 'rgba(130,130,130,.75)',
      borderWidth: .6,
      pointRadius: 0,
      tension: 0
    });
  });
});

// map frame: equator and prime meridian position inside the canvas
const originX = 398, originY = 244, perDegree = 2.47, perUnitY = 226;

new Chart(document.getElementById('mapChart'), {
  type: 'scatter',
  data: { datasets: mapDatasets },
  options: {
    responsive: false,
    animation: false,
    events: [],
    layout: { padding: 0 },
    plugins: { legend: { display: false }, tooltip: { enabled: false } },
    scales: {
      x: { type: 'linear', display: false, min: -originX / perDegree, max: (916 - originX) / perDegree },
      y: { type: 'linear', display: false, min: (originY - 420) / perUnitY, max: originY / perUnitY }
    }
  }
});

new Chart(document.getElementById('legendChart'), {
  type: 'bar',
  data: {
    labels: [''],
    datasets: binColors.map((color, i) => ({
      data: [binEdges[i + 1] - binEdges[i]],
      backgroundColor: color,
      borderColor: 'rgba(110,110,110,.7)',
      borderWidth: 1,
      borderSkipped: false,
      barPercentage: 1,
      categoryPercentage: 1
    }))
  },
  options: {
    indexAxis: 'y',
    responsive: false,
    animation: false,
    events: [],
    layout: { padding: { left: 82, right: 24, top: 4, bottom: 3 } },
    plugins: { legend: { display: false }, tooltip: { enabled: false } },
    scales: {
      x: {
        type: 'linear', position: 'top', stacked: true, min: 0, max: 100,
        afterFit: scale => { scale.height = 21; },
        border: { display: false },
        grid: { display: false, drawTicks: false },
        ticks: { stepSize: 10, maxRotation: 0, padding: 4, color: '#444', font: { family: 'Lato', size: 14 } }
      },
      y: { stacked: true, display: false }
    }
  }
});
</script>
</body>
</html>
